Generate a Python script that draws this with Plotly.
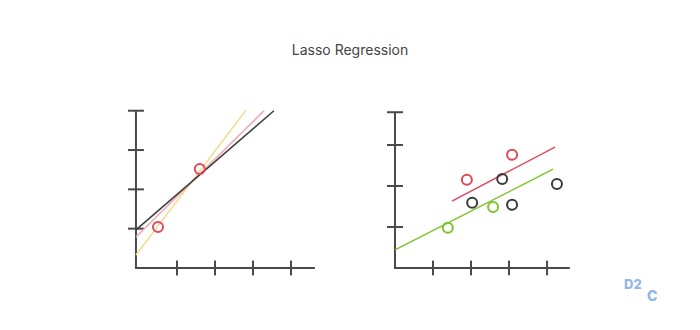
import plotly.graph_objects as go

# ---------------- data ----------------
title_text = "Lasso Regression"

# Left panel: regression lines (x endpoints, y endpoints)
left_black_x = [-0.08, 3.55]
left_black_y = [0.97, 4.0]
left_pink_x = [-0.08, 3.29]
left_pink_y = [0.79, 4.0]
left_yellow_x = [-0.08, 2.82]
left_yellow_y = [0.33, 4.02]
left_points_x = [0.5, 1.6]
left_points_y = [1.04, 2.52]

# Right panel
right_red_pts_x = [1.89, 3.08]
right_red_pts_y = [2.15, 2.76]
right_black_pts_x = [2.03, 2.82, 3.08, 4.26]
right_black_pts_y = [1.59, 2.17, 1.54, 2.05]
right_green_pts_x = [1.39, 2.58]
right_green_pts_y = [0.98, 1.49]
right_red_line_x = [1.5, 4.21]
right_red_line_y = [1.63, 2.95]
right_green_line_x = [0.0, 4.16]
right_green_line_y = [0.44, 2.41]

tick_positions = [1, 2, 3, 4]
left_y_ticks = [1, 2, 3, 4]
right_y_ticks = [1, 2, 3, 3.8]

logo_parts = ["D2", "C"]

# ---------------- styles ----------------
AX = "#4a4a4a"
RED = "#e0485b"
GREEN = "#7cc42c"
DARK = "#3a3a3a"
PINK = "#eeaab2"
YELLOW = "#f6dc8e"
LOGO = "#93b6e6"

fig = go.Figure()


def add_axes(xref, yref, ox, x_end, y_end, xticks, yticks, tx, ty):
    fig.add_trace(go.Scatter(x=[ox, ox, x_end], y=[y_end, 0, 0], mode="lines",
                             line=dict(color=AX, width=2), xaxis=xref, yaxis=yref,
                             hoverinfo="skip", showlegend=False))
    xs, ys = [], []
    for t in xticks:
        xs += [t, t, None]
        ys += [-ty, ty, None]
    for t in yticks:
        xs += [ox - tx, ox + tx, None]
        ys += [t, t, None]
    fig.add_trace(go.Scatter(x=xs, y=ys, mode="lines", line=dict(color=AX, width=2),
                             xaxis=xref, yaxis=yref, hoverinfo="skip", showlegend=False))


# Left panel
add_axes("x", "y", -0.08, 4.63, 4.0, tick_positions, left_y_ticks, 0.21, 0.19)
fig.add_trace(go.Scatter(x=left_yellow_x, y=left_yellow_y, mode="lines",
                         line=dict(color=YELLOW, width=1.5), xaxis="x", yaxis="y", showlegend=False))
fig.add_trace(go.Scatter(x=left_pink_x, y=left_pink_y, mode="lines",
                         line=dict(color=PINK, width=1.5), xaxis="x", yaxis="y", showlegend=False))
fig.add_trace(go.Scatter(x=left_black_x, y=left_black_y, mode="lines",
                         line=dict(color=DARK, width=1.5), xaxis="x", yaxis="y", showlegend=False))
fig.add_trace(go.Scatter(x=left_points_x, y=left_points_y, mode="markers",
                         marker=dict(symbol="circle-open", size=10, color=RED, line=dict(width=2)),
                         xaxis="x", yaxis="y", showlegend=False))

# Right panel
add_axes("x2", "y2", 0.0, 4.6, 3.8, tick_positions, right_y_ticks, 0.21, 0.18)
fig.add_trace(go.Scatter(x=right_red_line_x, y=right_red_line_y, mode="lines",
                         line=dict(color=RED, width=1.5), xaxis="x2", yaxis="y2", showlegend=False))
fig.add_trace(go.Scatter(x=right_green_line_x, y=right_green_line_y, mode="lines",
                         line=dict(color=GREEN, width=1.5), xaxis="x2", yaxis="y2", showlegend=False))
for px, py, c in [(right_red_pts_x, right_red_pts_y, RED),
                  (right_black_pts_x, right_black_pts_y, DARK),
                  (right_green_pts_x, right_green_pts_y, GREEN)]:
    fig.add_trace(go.Scatter(x=px, y=py, mode="markers",
                             marker=dict(symbol="circle-open", size=10, color=c, line=dict(width=2)),
                             xaxis="x2", yaxis="y2", showlegend=False))

W, H = 700, 330


def xdom(a, b):
    return [a / W, b / W]


def ydom(top, bottom):
    return [1 - bottom / H, 1 - top / H]


hidden = dict(showgrid=False, zeroline=False, showticklabels=False, ticks="", showline=False)
fig.update_layout(
    width=W, height=H, margin=dict(l=0, r=0, t=0, b=0),
    paper_bgcolor="white", plot_bgcolor="white",
    showlegend=False,
    xaxis=dict(domain=xdom(120, 330), range=[-0.5, 5.026], **hidden),
    yaxis=dict(domain=ydom(95, 285), range=[-0.433, 4.40], **hidden),
    xaxis2=dict(domain=xdom(375, 590), range=[-0.526, 5.13], **hidden),
    yaxis2=dict(domain=ydom(95, 285), range=[-0.415, 4.22], **hidden),
    title=dict(text=title_text, x=0.5, xanchor="center", y=1 - 50 / H, yanchor="middle",
               font=dict(family="Inter, Roboto, sans-serif", size=14, color="#444444")),
    annotations=[
        dict(text=logo_parts[0], x=644 / W, y=1 - 294 / H, xref="paper", yref="paper",
             showarrow=False, font=dict(family="Inter, sans-serif", size=13, color=LOGO, weight=800)),
        dict(text=logo_parts[1], x=659 / W, y=1 - 306 / H, xref="paper", yref="paper",
             showarrow=False, font=dict(family="Inter, sans-serif", size=14, color=LOGO, weight=800)),
    ],
)

fig.write_html("out.html")
